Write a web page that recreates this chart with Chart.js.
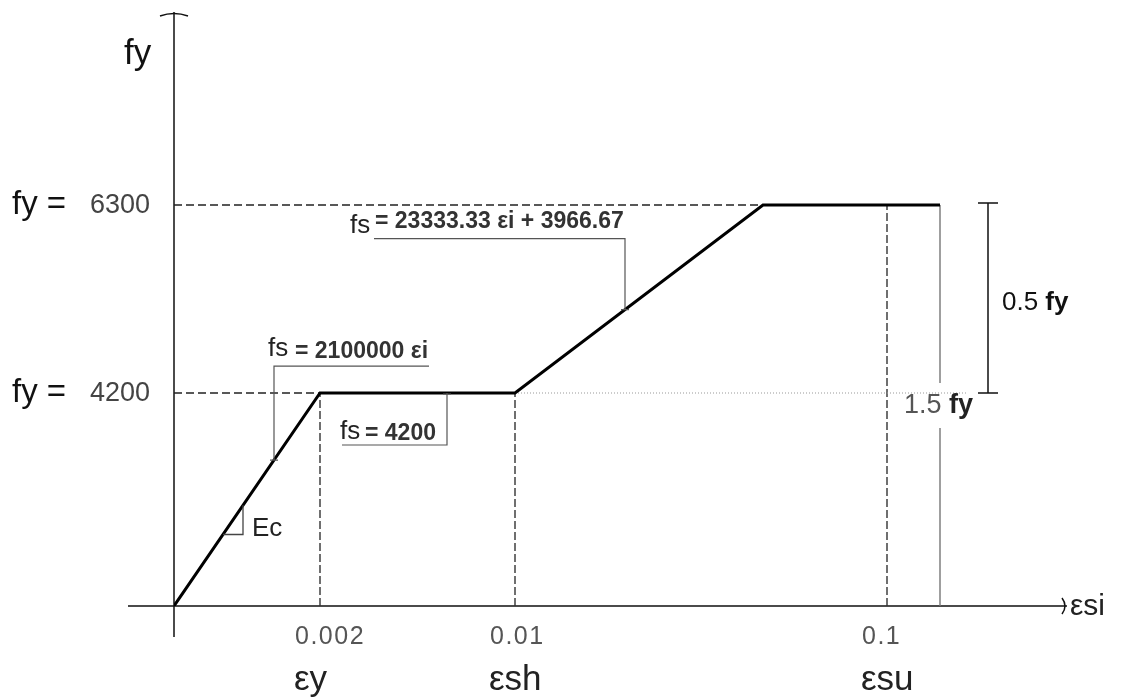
<!DOCTYPE html>
<html>
<head>
<meta charset="utf-8">
<script src="https://cdn.jsdelivr.net/npm/chart.js@4.4.1/dist/chart.umd.min.js"></script>
<style>
  html, body { margin: 0; padding: 0; background: #fff; }
</style>
</head>
<body>
<canvas id="stressStrain" width="1124" height="700"></canvas>
<script>
// the sketch is not to scale, so points sit at schematic positions
// along each axis; the real numbers only appear in the labels
var strainPos = [0, 1.46, 3.41, 5.89, 7.66];
var stressPos = [0, 2.13, 2.13, 4.01, 4.01];

var xTickPos = [1.46, 3.41, 7.13];
var xTickLabels = ["0.002", "0.01", "0.1"];
var xTickSymbols = ["εy", "εsh", "εsu"];

var yTickPos = [2.13, 4.01];
var yTickLabels = ["4200", "6300"];

var FONT = "'Liberation Sans', Arial, sans-serif";

function pts(xa, ya) {
  return xa.map(function (x, i) { return { x: x, y: ya[i] }; });
}

// stress on the curve at a given schematic strain (used to hook leaders on)
function curveAt(x) {
  for (var i = 1; i < strainPos.length; i++) {
    if (x <= strainPos[i]) {
      var t = (x - strainPos[i - 1]) / (strainPos[i] - strainPos[i - 1]);
      return stressPos[i - 1] + t * (stressPos[i] - stressPos[i - 1]);
    }
  }
  return stressPos[stressPos.length - 1];
}

function text(ctx, s, x, y, font, color, maxW) {
  ctx.font = font;
  ctx.fillStyle = color;
  ctx.textAlign = "left";
  ctx.textBaseline = "middle";
  if (maxW) ctx.fillText(s, x, y, maxW); else ctx.fillText(s, x, y);
  return ctx.measureText(s).width;
}

var diagram = {
  id: "diagram",
  beforeDatasetsDraw: function (chart) {
    var ctx = chart.ctx, xs = chart.scales.x, ys = chart.scales.y;
    var x0 = xs.getPixelForValue(0), y0 = ys.getPixelForValue(0);
    ctx.save();
    ctx.strokeStyle = "#111";
    ctx.lineWidth = 1.5;
    ctx.beginPath();
    ctx.moveTo(x0, ys.top);
    ctx.lineTo(x0, y0 + 31);
    ctx.moveTo(x0 - 46, y0);
    ctx.lineTo(xs.right, y0);
    ctx.stroke();
    // arrow heads
    ctx.beginPath();
    ctx.moveTo(x0 - 14, ys.top + 4);
    ctx.quadraticCurveTo(x0, ys.top - 1, x0 + 14, ys.top + 4);
    ctx.moveTo(xs.right - 5, y0 - 8);
    ctx.quadraticCurveTo(xs.right + 1, y0, xs.right - 5, y0 + 8);
    ctx.stroke();

    // grey dimension line for 1.5 fy, broken by its label
    var yTop = ys.getPixelForValue(stressPos[4]);
    var yMid = ys.getPixelForValue(stressPos[2]);
    var xe = xs.getPixelForValue(strainPos[4]);
    ctx.strokeStyle = "#777";
    ctx.lineWidth = 1.4;
    ctx.beginPath();
    ctx.moveTo(xe, yTop);
    ctx.lineTo(xe, yMid - 10);
    ctx.moveTo(xe, yMid + 35);
    ctx.lineTo(xe, y0);
    ctx.stroke();
    ctx.restore();
  },
  afterDatasetsDraw: function (chart) {
    var ctx = chart.ctx, xs = chart.scales.x, ys = chart.scales.y;
    var px = function (v) { return xs.getPixelForValue(v); };
    var py = function (v) { return ys.getPixelForValue(v); };
    var y0 = py(0);
    ctx.save();

    // axis titles
    text(ctx, "fy", 124, 54, "35px " + FONT, "#111");
    text(ctx, "εsi", xs.right + 3, y0 + 1, "30px " + FONT, "#222");

    // y ticks
    yTickPos.forEach(function (v, i) {
      var y = py(v);
      text(ctx, "fy =", 12, y, "33px " + FONT, "#111");
      ctx.textAlign = "right";
      ctx.font = "27px " + FONT;
      ctx.fillStyle = "#444";
      ctx.fillText(yTickLabels[i], 150, y + 1);
    });

    // x ticks
    ctx.letterSpacing = "1.5px";
    xTickPos.forEach(function (v, i) {
      text(ctx, xTickLabels[i], px(v) - 25, y0 + 31, "25px " + FONT, "#555");
    });
    ctx.letterSpacing = "0px";
    xTickPos.forEach(function (v, i) {
      text(ctx, xTickSymbols[i], px(v) - 26, y0 + 74, "35px " + FONT, "#222");
    });

    // leaders
    ctx.strokeStyle = "#555";
    ctx.lineWidth = 1.2;
    function tick(x, y) {
      ctx.moveTo(x - 4, y);
      ctx.lineTo(x + 4, y);
    }
    var a1x = px(1.0), a1y = py(curveAt(1.0));
    var a2x = px(2.73), a2y = py(stressPos[1]);
    var a3x = px(4.51), a3y = py(curveAt(4.51));
    ctx.beginPath();
    ctx.moveTo(a1x, a1y);
    ctx.lineTo(a1x, a1y - 94);
    ctx.lineTo(a1x + 155, a1y - 94);
    tick(a1x, a1y);
    ctx.moveTo(a2x, a2y);
    ctx.lineTo(a2x, a2y + 52);
    ctx.lineTo(a2x - 105, a2y + 52);
    tick(a2x, a2y + 1);
    ctx.moveTo(a3x, a3y);
    ctx.lineTo(a3x, a3y - 71);
    ctx.lineTo(a3x - 251, a3y - 71);
    tick(a3x, a3y);
    ctx.stroke();

    text(ctx, "fs", a1x - 6, a1y - 111, "26px " + FONT, "#222");
    text(ctx, "= 2100000 εi", a1x + 21, a1y - 108, "bold 23px " + FONT, "#333", 138);
    text(ctx, "fs", a2x - 107, a2y + 39, "26px " + FONT, "#222");
    text(ctx, "= 4200", a2x - 82, a2y + 41, "bold 23px " + FONT, "#333", 72);
    text(ctx, "fs", a3x - 275, a3y - 84, "26px " + FONT, "#222");
    text(ctx, "= 23333.33 εi + 3966.67", a3x - 250, a3y - 88, "bold 23px " + FONT, "#333", 252);

    // slope triangle
    var t1 = 0.49, t2 = 0.69;
    ctx.strokeStyle = "#444";
    ctx.lineWidth = 1.3;
    ctx.beginPath();
    ctx.moveTo(px(t1), py(curveAt(t1)));
    ctx.lineTo(px(t2), py(curveAt(t1)));
    ctx.lineTo(px(t2), py(curveAt(t2)));
    ctx.stroke();
    text(ctx, "Ec", px(t2) + 9, py(curveAt(t1)) - 6, "26px " + FONT, "#222");

    // 0.5 fy dimension bar
    var dx = px(8.14), dTop = py(stressPos[4]) - 2, dBot = py(stressPos[2]);
    ctx.strokeStyle = "#111";
    ctx.lineWidth = 1.5;
    ctx.beginPath();
    ctx.moveTo(dx, dTop);
    ctx.lineTo(dx, dBot);
    ctx.moveTo(dx - 10, dTop);
    ctx.lineTo(dx + 10, dTop);
    ctx.moveTo(dx - 10, dBot);
    ctx.lineTo(dx + 10, dBot);
    ctx.stroke();
    var w = text(ctx, "0.5 ", dx + 14, (dTop + dBot) / 2 + 5, "26px " + FONT, "#111");
    text(ctx, "fy", dx + 14 + w, (dTop + dBot) / 2 + 5, "bold 26px " + FONT, "#111");

    // 1.5 fy label
    w = text(ctx, "1.5 ", 904, dBot + 13, "27px " + FONT, "#555");
    text(ctx, "fy", 904 + w, dBot + 13, "bold 27px " + FONT, "#222");

    ctx.restore();
  }
};

var dashed = { borderColor: "#222", borderWidth: 1.3, borderDash: [8, 4] };
var dashedV = { borderColor: "#333", borderWidth: 1.4, borderDash: [8, 3] };

function guide(data, style) {
  return Object.assign({ data: data, pointRadius: 0 }, style);
}

var ctx = document.getElementById("stressStrain").getContext("2d");
var chart = new Chart(ctx, {
  type: "line",
  data: {
    datasets: [
      {
        label: "fs",
        data: pts(strainPos, stressPos),
        borderColor: "#000",
        borderWidth: 3,
        pointRadius: 0
      },
      guide(pts([0, strainPos[3]], [stressPos[3], stressPos[3]]), dashed),
      guide(pts([0, strainPos[1]], [stressPos[1], stressPos[1]]), dashed),
      guide(pts([strainPos[2], 7.94], [stressPos[2], stressPos[2]]),
        { borderColor: "#999", borderWidth: 1, borderDash: [1, 2] }),
      guide(pts([xTickPos[0], xTickPos[0]], [0, stressPos[1]]), dashedV),
      guide(pts([xTickPos[1], xTickPos[1]], [0, stressPos[2]]), dashedV),
      guide(pts([xTickPos[2], xTickPos[2]], [0, stressPos[3]]), dashedV)
    ]
  },
  options: {
    responsive: false,
    animation: false,
    devicePixelRatio: 1,
    layout: { padding: { left: 174, right: 57, top: 12, bottom: 94 } },
    scales: {
      x: { type: "linear", display: false, min: 0, max: 8.93 },
      y: { type: "linear", display: false, min: 0, max: 5.94 }
    },
    elements: { line: { tension: 0 } },
    plugins: {
      legend: { display: false },
      tooltip: { enabled: false }
    }
  },
  plugins: [diagram]
});
</script>
</body>
</html>
